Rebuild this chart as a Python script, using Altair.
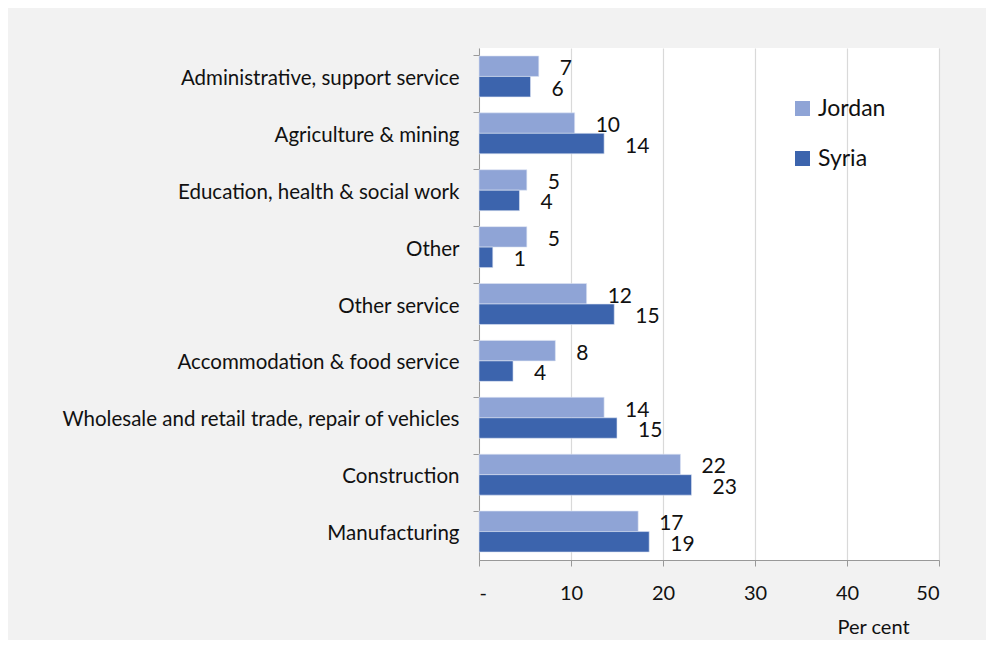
import altair as alt
import pandas as pd

categories = [
    "Administrative, support service",
    "Agriculture & mining",
    "Education, health & social work",
    "Other",
    "Other service",
    "Accommodation & food service",
    "Wholesale and retail trade, repair of vehicles",
    "Construction",
    "Manufacturing",
]
series = ["Jordan", "Syria"]
jordan = [6.5, 10.4, 5.2, 5.2, 11.7, 8.3, 13.6, 21.9, 17.3]
syria = [5.6, 13.6, 4.4, 1.5, 14.7, 3.7, 15.0, 23.1, 18.5]
jordan_labels = ["7", "10", "5", "5", "12", "8", "14", "22", "17"]
syria_labels = ["6", "14", "4", "1", "15", "4", "15", "23", "19"]
x_ticks = [0, 10, 20, 30, 40, 50]
colors = ["#8FA4D6", "#3C64AD"]

rows = []
for i, c in enumerate(categories):
    rows.append({"category": c, "series": "Jordan", "value": jordan[i], "label": jordan_labels[i]})
    rows.append({"category": c, "series": "Syria", "value": syria[i], "label": syria_labels[i]})
df = pd.DataFrame(rows)

FONT = "Lato"

y_enc = alt.Y(
    "category:N",
    sort=categories,
    scale=alt.Scale(paddingInner=0.28, paddingOuter=0.14),
    axis=alt.Axis(
        title=None,
        labelFont=FONT,
        labelFontSize=20.5,
        labelColor="#111111",
        labelPadding=14,
        labelLimit=600,
        labelOffset=2.5,
        tickSize=6,
        tickColor="#999999",
        domainColor="#999999",
        bandPosition=0,
        grid=False,
    ),
)
x_enc = alt.X(
    "value:Q",
    scale=alt.Scale(domain=[0, 50], nice=False),
    axis=alt.Axis(
        values=x_ticks,
        labelExpr="datum.value == 0 ? '-' : datum.label",
        labelFont=FONT,
        labelFontSize=20,
        labelColor="#111111",
        labelPadding=17,
        tickSize=6,
        tickColor="#999999",
        domainColor="#999999",
        gridColor="#D9D9D9",
        gridWidth=1.2,
        title="Per cent",
        titleFont=FONT,
        titleFontSize=20,
        titleFontWeight="normal",
        titleColor="#111111",
        titleX=394,
        titleY=57,
        titleBaseline="top",
        titleAnchor="middle",
        titleAlign="center",
    ),
)
yoff = alt.YOffset("series:N", sort=series)
color = alt.Color(
    "series:N",
    sort=series,
    scale=alt.Scale(domain=series, range=colors),
    legend=alt.Legend(
        title=None,
        orient="none",
        legendX=312,
        legendY=49,
        symbolType="square",
        symbolSize=225,
        symbolStrokeWidth=0,
        labelFont=FONT,
        labelFontSize=23,
        labelColor="#111111",
        rowPadding=26,
        labelOffset=4,
    ),
)

bars = alt.Chart(df).mark_bar(stroke="#DDE4F4", strokeWidth=0.6).encode(
    x=x_enc, y=y_enc, yOffset=yoff, color=color
)
texts = alt.Chart(df).mark_text(
    align="left", baseline="middle", dx=21, dy=3, font=FONT, fontSize=21, color="#111111"
).encode(x="value:Q", y=alt.Y("category:N", sort=categories), yOffset=yoff, text="label:N")

chart = (
    alt.layer(bars, texts)
    .properties(
        width=460,
        height=512,
        background="#F2F2F2",
        padding={"left": 471, "top": 40, "right": 47, "bottom": 80},
        autosize=alt.AutoSizeParams(type="none"),
    )
    .configure_view(fill="white", stroke=None)
)

chart.save("out.html", embed_options={"renderer": "svg", "actions": False})
